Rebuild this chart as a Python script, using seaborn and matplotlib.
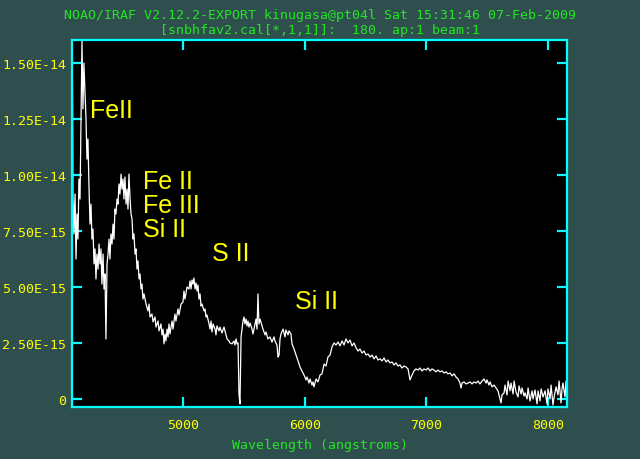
import matplotlib
matplotlib.use("Agg")
import matplotlib.pyplot as plt
import matplotlib.ticker as mticker
import pandas as pd
import seaborn as sns

# spectrum (flux in units of 1e-15 erg/s/cm2/A)
wavelength = [
    4090, 4093, 4096, 4104, 4113, 4121, 4129, 4137, 4145, 4154, 4162, 4170, 4178, 4186, 4195,
    4203, 4211, 4219, 4227, 4236, 4244, 4252, 4260, 4269, 4277, 4285, 4293, 4302, 4310, 4318,
    4326, 4334, 4343, 4351, 4359, 4367, 4376, 4384, 4392, 4400, 4408, 4417, 4425, 4433, 4441,
    4449, 4458, 4466, 4474, 4482, 4491, 4499, 4507, 4515, 4523, 4532, 4540, 4548, 4556, 4565,
    4573, 4581, 4589, 4597, 4606, 4614, 4622, 4630, 4639, 4647, 4655, 4663, 4671, 4680, 4696,
    4712, 4721, 4729, 4745, 4754, 4770, 4778, 4795, 4803, 4819, 4827, 4836, 4844, 4852, 4860,
    4869, 4877, 4885, 4893, 4910, 4918, 4934, 4942, 4959, 4967, 4984, 5000, 5008, 5016, 5033,
    5049, 5058, 5066, 5074, 5082, 5090, 5099, 5107, 5115, 5123, 5131, 5140, 5148, 5156, 5173,
    5181, 5189, 5197, 5214, 5222, 5230, 5238, 5247, 5263, 5271, 5279, 5296, 5304, 5320, 5337,
    5353, 5362, 5378, 5386, 5403, 5419, 5427, 5436, 5444, 5452, 5460, 5468, 5477, 5485, 5493,
    5501, 5509, 5518, 5526, 5534, 5542, 5551, 5567, 5575, 5592, 5600, 5608, 5616, 5624, 5633,
    5649, 5657, 5674, 5682, 5698, 5715, 5731, 5748, 5756, 5772, 5781, 5789, 5797, 5805, 5822,
    5838, 5846, 5863, 5871, 5887, 5896, 5912, 5929, 5945, 5961, 5978, 5994, 6011, 6019, 6035,
    6044, 6060, 6068, 6076, 6093, 6109, 6126, 6142, 6159, 6175, 6191, 6208, 6224, 6241, 6257,
    6274, 6290, 6307, 6323, 6339, 6356, 6372, 6389, 6405, 6422, 6438, 6454, 6471, 6487, 6504,
    6520, 6537, 6553, 6569, 6586, 6602, 6619, 6635, 6652, 6668, 6684, 6701, 6717, 6734, 6750,
    6767, 6783, 6799, 6816, 6832, 6849, 6865, 6882, 6898, 6914, 6931, 6947, 6964, 6980, 6997,
    7013, 7030, 7046, 7062, 7079, 7095, 7112, 7128, 7145, 7161, 7177, 7194, 7210, 7227, 7243,
    7260, 7276, 7284, 7293, 7309, 7325, 7342, 7358, 7375, 7391, 7408, 7424, 7440, 7457, 7473,
    7490, 7498, 7514, 7523, 7539, 7556, 7572, 7588, 7605, 7613, 7621, 7638, 7646, 7662, 7671,
    7687, 7695, 7712, 7720, 7736, 7753, 7761, 7778, 7786, 7802, 7810, 7827, 7835, 7851, 7868,
    7876, 7892, 7909, 7917, 7933, 7942, 7958, 7975, 7991, 7999, 8016, 8024, 8040, 8049, 8065,
    8081, 8090, 8106, 8114, 8122, 8139, 8147, 8155,
]
flux_e15 = [
    15.3, 12.9, 8.93, 7.37, 9.15, 6.25, 8.26, 7.14, 9.82, 8.93, 12.50, 15.98, 12.95, 15.00, 13.62,
    12.50, 10.71, 11.61, 9.60, 7.81, 8.70, 7.14, 7.59, 6.03, 6.70, 5.36, 6.47, 5.80, 6.92, 6.03,
    6.70, 5.13, 6.47, 4.91, 5.58, 2.68, 6.03, 6.47, 7.14, 6.25, 7.37, 6.92, 7.81, 7.14, 8.48,
    8.26, 8.93, 8.70, 9.60, 9.15, 10.04, 9.37, 9.82, 8.93, 9.91, 8.70, 9.37, 8.48, 10.04, 8.93,
    8.26, 8.04, 7.14, 7.37, 6.47, 6.70, 5.80, 6.16, 5.36, 5.58, 4.91, 5.13, 4.46, 4.69, 4.24,
    3.93, 4.24, 3.66, 3.79, 3.44, 3.66, 3.21, 3.48, 3.04, 3.35, 2.86, 3.12, 2.46, 2.90, 2.59,
    3.12, 2.77, 3.35, 2.90, 3.48, 3.12, 3.79, 3.48, 4.02, 3.75, 4.24, 4.33, 4.82, 4.46, 5.00,
    4.91, 5.27, 4.91, 5.31, 5.13, 5.40, 4.91, 5.18, 4.82, 5.09, 4.46, 4.69, 4.15, 4.24, 3.93,
    4.02, 3.66, 3.75, 3.35, 3.12, 3.48, 2.99, 3.35, 3.12, 2.86, 3.26, 3.04, 3.21, 2.95, 3.21,
    2.86, 2.68, 2.59, 2.50, 2.46, 2.59, 2.41, 2.68, 2.46, 2.50, 0.22, -0.22, 2.77, 3.12, 3.48,
    3.66, 3.35, 3.57, 3.26, 3.48, 3.21, 3.39, 3.12, 2.90, 3.35, 3.57, 3.12, 4.69, 3.35, 3.57,
    3.26, 3.12, 2.86, 2.99, 2.68, 2.77, 2.54, 2.77, 2.59, 2.41, 1.87, 1.96, 2.68, 2.90, 3.12,
    2.77, 3.08, 2.86, 3.04, 2.90, 2.46, 2.23, 1.96, 1.70, 1.43, 1.25, 1.07, 0.85, 0.98, 0.71,
    0.89, 0.62, 0.76, 0.54, 0.89, 0.76, 1.07, 1.12, 1.56, 1.47, 1.87, 1.96, 2.32, 2.50, 2.41,
    2.54, 2.37, 2.59, 2.41, 2.68, 2.50, 2.63, 2.37, 2.50, 2.28, 2.14, 2.23, 2.05, 2.14, 1.96,
    2.01, 1.87, 1.96, 1.79, 1.92, 1.74, 1.79, 1.70, 1.83, 1.65, 1.74, 1.61, 1.65, 1.52, 1.61,
    1.47, 1.52, 1.38, 1.47, 1.43, 1.34, 0.85, 1.07, 1.25, 1.34, 1.29, 1.38, 1.25, 1.34, 1.29,
    1.38, 1.25, 1.34, 1.29, 1.21, 1.29, 1.21, 1.25, 1.16, 1.21, 1.12, 1.16, 1.03, 1.12, 0.98,
    0.89, 0.71, 0.49, 0.71, 0.76, 0.67, 0.71, 0.76, 0.67, 0.76, 0.71, 0.80, 0.67, 0.80, 0.89,
    0.71, 0.85, 0.62, 0.76, 0.54, 0.62, 0.49, 0.36, 0.00, -0.18, 0.18, 0.27, 0.62, 0.18, 0.80,
    0.36, 0.71, 0.22, 0.80, 0.31, 0.09, 0.58, 0.22, 0.49, 0.13, 0.27, 0.00, 0.49, -0.09, 0.36,
    0.00, 0.40, -0.22, 0.36, -0.09, 0.45, 0.09, 0.36, -0.22, 0.45, 0.00, 0.62, -0.27, 0.09, 0.54,
    0.18, 0.80, -0.18, 0.45, 0.71, 0.09, 0.80, 0.22,
]

x_ticks = [5000, 6000, 7000, 8000]
y_ticks = [0, 2.5e-15, 5e-15, 7.5e-15, 1e-14, 1.25e-14, 1.5e-14]

line_labels = ["FeII", "Fe II", "Fe III", "Si II", "S II", "Si II"]
label_wl = [4236, 4671, 4671, 4671, 5238, 5920]
label_flux = [12.59e-15, 9.42e-15, 8.35e-15, 7.28e-15, 6.20e-15, 4.06e-15]

title_1 = "NOAO/IRAF V2.12.2-EXPORT kinugasa@pt04l Sat 15:31:46 07-Feb-2009"
title_2 = "[snbhfav2.cal[*,1,1]]:  180. ap:1 beam:1"

BG = "#2f4f4f"
CYAN = "#00ffff"
YELLOW = "#ffff00"
GREEN = "#22e622"
MONO = ["DejaVu Sans Mono"]

df = pd.DataFrame({"wavelength": wavelength,
                   "flux": [f * 1e-15 for f in flux_e15]})

fig = plt.figure(figsize=(6.4, 4.6), dpi=100, facecolor=BG)
ax = fig.add_axes([72 / 640, 52 / 460, 495 / 640, 367 / 460])
ax.set_facecolor("black")

sns.lineplot(data=df, x="wavelength", y="flux", color="white", linewidth=0.9,
             estimator=None, sort=False, ax=ax)

ax.set_xlim(4088, 8155)
ax.set_ylim(-0.36e-15, 16.03e-15)
ax.set_xticks(x_ticks)
ax.set_yticks(y_ticks)
ax.xaxis.set_major_formatter(mticker.FuncFormatter(lambda v, p: f"{v:.0f}"))
ax.yaxis.set_major_formatter(
    mticker.FuncFormatter(lambda v, p: "0" if v == 0 else f"{v:.2E}"))

for s in ax.spines.values():
    s.set_color(CYAN)
    s.set_linewidth(1.6)
ax.tick_params(direction="in", length=7, width=1.6, color=CYAN,
               top=True, right=True, labelcolor=YELLOW, labelsize=9.5)
ax.tick_params(axis="x", pad=8)
ax.tick_params(axis="y", pad=4)
for lbl in ax.get_xticklabels() + ax.get_yticklabels():
    lbl.set_family(MONO)

ax.set_xlabel("")
ax.set_ylabel("")

for txt, xw, yf in zip(line_labels, label_wl, label_flux):
    ax.text(xw, yf, txt, color=YELLOW, fontsize=18, ha="left", va="baseline",
            family=["Liberation Sans Narrow", "Liberation Sans"])

fig.text(0.5, 1 - 16 / 460, title_1, color=GREEN, ha="center", va="center",
         fontsize=9.5, family=MONO)
fig.text(0.5, 1 - 31 / 460, title_2, color=GREEN, ha="center", va="center",
         fontsize=9.5, family=MONO)
fig.text(320 / 640, 1 - 446 / 460, "Wavelength (angstroms)", color=GREEN,
         ha="center", va="center", fontsize=9.5, family=MONO)

fig.savefig("out.png", dpi=100, facecolor=BG)
